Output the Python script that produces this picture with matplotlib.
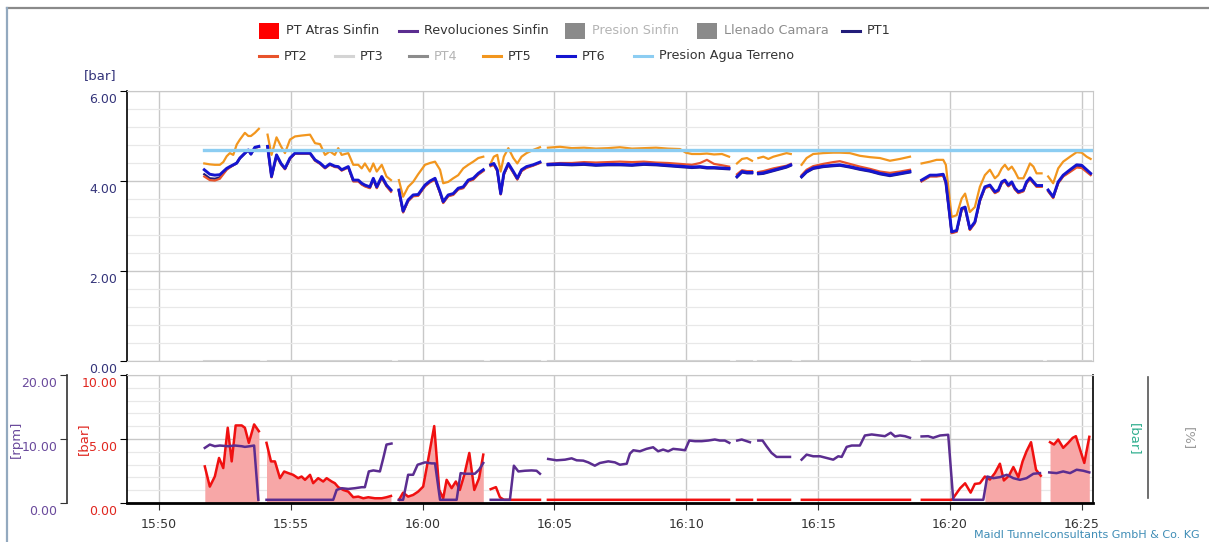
import numpy as np
import matplotlib.pyplot as plt
from matplotlib.lines import Line2D
from matplotlib.patches import Rectangle
from matplotlib.transforms import ScaledTranslation

# ------------------------------------------------------------
# Data (minutes after 15:50), segments separated where the logger had gaps
# ------------------------------------------------------------
tick_minutes = [0, 5, 10, 15, 20, 25, 30, 35]
tick_labels = ['15:50', '15:55', '16:00', '16:05', '16:10', '16:15', '16:20', '16:25']

t_top = [
    [1.72, 1.93, 2.12, 2.31, 2.44, 2.57, 2.69, 2.82, 2.95, 3.07, 3.26, 3.39, 3.49, 3.64, 3.79],
    [4.12, 4.27, 4.46, 4.63, 4.78, 4.97, 5.16, 5.41, 5.73, 5.92, 6.11, 6.30, 6.48, 6.67, 6.80,
     6.93, 7.18, 7.37, 7.56, 7.69, 7.81, 8.00, 8.13, 8.26, 8.45, 8.63, 8.80],
    [9.10, 9.26, 9.45, 9.64, 9.83, 10.09, 10.28, 10.47, 10.66, 10.78, 10.97, 11.16, 11.35, 11.54,
     11.73, 11.92, 12.11, 12.30],
    [12.58, 12.70, 12.83, 12.96, 13.08, 13.25, 13.44, 13.59, 13.75, 13.94, 14.19, 14.45],
    [14.75, 15.21, 15.66, 16.12, 16.57, 17.03, 17.48, 17.94, 18.39, 18.85, 19.30, 19.76, 19.98,
     20.21, 20.52, 20.78, 21.05, 21.35, 21.62],
    [21.92, 22.11, 22.30, 22.49],
    [22.73, 22.92, 23.11, 23.30, 23.55, 23.80, 23.96],
    [24.37, 24.56, 24.81, 25.19, 25.57, 25.82, 26.20, 26.58, 26.96, 27.34, 27.72, 28.10, 28.48],
    [28.92, 29.24, 29.49, 29.74, 29.84, 30.06, 30.25, 30.44, 30.57, 30.75, 30.94, 31.13, 31.32,
     31.51, 31.70, 31.83, 31.96, 32.08, 32.21, 32.34, 32.46, 32.59, 32.78, 32.90, 33.03, 33.16,
     33.28, 33.47],
    [33.72, 33.91, 34.10, 34.29, 34.55, 34.80, 34.99, 35.18, 35.33],
]

pt5 = [
    [4.39, 4.37, 4.36, 4.36, 4.42, 4.55, 4.62, 4.58, 4.81, 4.92, 5.07, 5.00, 5.00, 5.07, 5.16],
    [5.03, 4.58, 4.97, 4.77, 4.62, 4.92, 4.99, 5.01, 5.03, 4.84, 4.82, 4.58, 4.66, 4.58, 4.73,
     4.58, 4.62, 4.36, 4.36, 4.28, 4.39, 4.21, 4.39, 4.21, 4.36, 4.10, 4.02],
    [4.02, 3.65, 3.87, 3.98, 4.15, 4.36, 4.40, 4.43, 4.25, 3.95, 3.98, 4.06, 4.13, 4.28, 4.36,
     4.43, 4.51, 4.54],
    [4.39, 4.54, 4.58, 4.21, 4.54, 4.73, 4.51, 4.39, 4.54, 4.62, 4.69, 4.75],
    [4.74, 4.76, 4.73, 4.74, 4.72, 4.73, 4.75, 4.72, 4.73, 4.74, 4.72, 4.71, 4.63, 4.60, 4.60,
     4.61, 4.59, 4.60, 4.54],
    [4.39, 4.49, 4.51, 4.45],
    [4.51, 4.54, 4.49, 4.54, 4.58, 4.62, 4.60],
    [4.36, 4.51, 4.60, 4.62, 4.63, 4.63, 4.62, 4.56, 4.53, 4.51, 4.45, 4.49, 4.54],
    [4.39, 4.43, 4.47, 4.47, 4.36, 3.20, 3.24, 3.61, 3.72, 3.31, 3.42, 3.87, 4.13, 4.25, 4.06,
     4.13, 4.28, 4.36, 4.25, 4.32, 4.21, 4.06, 4.06, 4.21, 4.39, 4.32, 4.17, 4.17],
    [4.10, 3.95, 4.28, 4.43, 4.54, 4.64, 4.63, 4.54, 4.49],
]

pt6 = [
    [4.25, 4.15, 4.13, 4.14, 4.21, 4.28, 4.32, 4.36, 4.40, 4.51, 4.62, 4.69, 4.60, 4.75, 4.77],
    [4.77, 4.10, 4.58, 4.39, 4.28, 4.51, 4.62, 4.62, 4.62, 4.47, 4.40, 4.30, 4.38, 4.33, 4.32,
     4.25, 4.32, 4.02, 4.02, 3.95, 3.91, 3.87, 4.06, 3.87, 4.10, 3.91, 3.80],
    [3.80, 3.33, 3.58, 3.69, 3.70, 3.91, 4.00, 4.06, 3.76, 3.54, 3.69, 3.72, 3.84, 3.87, 4.02,
     4.06, 4.17, 4.25],
    [4.36, 4.39, 4.25, 3.72, 4.17, 4.39, 4.21, 4.06, 4.25, 4.32, 4.36, 4.42],
    [4.37, 4.38, 4.37, 4.38, 4.36, 4.37, 4.37, 4.36, 4.38, 4.37, 4.35, 4.33, 4.32, 4.31, 4.32,
     4.30, 4.30, 4.29, 4.28],
    [4.10, 4.21, 4.19, 4.19],
    [4.17, 4.18, 4.21, 4.24, 4.28, 4.32, 4.36],
    [4.10, 4.21, 4.29, 4.33, 4.35, 4.36, 4.32, 4.27, 4.23, 4.17, 4.13, 4.17, 4.21],
    [4.02, 4.13, 4.13, 4.15, 3.98, 2.87, 2.90, 3.39, 3.42, 2.94, 3.09, 3.58, 3.87, 3.91, 3.76,
     3.80, 3.98, 4.02, 3.91, 3.98, 3.84, 3.76, 3.80, 3.98, 4.07, 3.98, 3.90, 3.90],
    [3.80, 3.65, 3.98, 4.13, 4.25, 4.36, 4.35, 4.25, 4.17],
]

pt2 = [
    [4.10, 4.02, 4.01, 4.05, 4.15, 4.25, 4.30, 4.35, 4.40, 4.51, 4.62, 4.68, 4.60, 4.74, 4.76],
    [4.75, 4.08, 4.56, 4.37, 4.26, 4.49, 4.61, 4.61, 4.61, 4.45, 4.38, 4.28, 4.36, 4.31, 4.30,
     4.23, 4.30, 3.99, 3.99, 3.92, 3.88, 3.84, 4.03, 3.84, 4.07, 3.88, 3.76],
    [3.77, 3.30, 3.55, 3.66, 3.67, 3.88, 3.97, 4.03, 3.73, 3.51, 3.66, 3.69, 3.81, 3.84, 3.99,
     4.03, 4.14, 4.22],
    [4.33, 4.36, 4.22, 3.70, 4.14, 4.36, 4.18, 4.03, 4.22, 4.29, 4.34, 4.40],
    [4.38, 4.40, 4.40, 4.42, 4.41, 4.42, 4.43, 4.42, 4.43, 4.41, 4.40, 4.38, 4.37, 4.36, 4.40,
     4.47, 4.38, 4.35, 4.32],
    [4.15, 4.24, 4.22, 4.22],
    [4.20, 4.22, 4.25, 4.28, 4.31, 4.34, 4.38],
    [4.13, 4.25, 4.33, 4.38, 4.42, 4.44, 4.38, 4.32, 4.27, 4.21, 4.18, 4.21, 4.25],
    [3.99, 4.10, 4.10, 4.12, 3.95, 2.84, 2.87, 3.36, 3.39, 2.91, 3.06, 3.55, 3.84, 3.88, 3.73,
     3.77, 3.95, 3.99, 3.88, 3.95, 3.81, 3.73, 3.77, 3.95, 4.04, 3.95, 3.87, 3.87],
    [3.77, 3.62, 3.95, 4.10, 4.20, 4.30, 4.29, 4.20, 4.13],
]

pt1 = [
    [4.15, 4.06, 4.05, 4.08, 4.17, 4.26, 4.31, 4.35, 4.39, 4.50, 4.61, 4.68, 4.59, 4.74, 4.76],
    [4.76, 4.09, 4.57, 4.38, 4.27, 4.50, 4.61, 4.61, 4.61, 4.46, 4.39, 4.29, 4.37, 4.32, 4.31,
     4.24, 4.31, 4.00, 4.00, 3.93, 3.89, 3.85, 4.04, 3.85, 4.08, 3.89, 3.78],
    [3.78, 3.31, 3.56, 3.67, 3.68, 3.89, 3.98, 4.04, 3.74, 3.52, 3.67, 3.70, 3.82, 3.85, 4.00,
     4.04, 4.15, 4.23],
    [4.34, 4.37, 4.23, 3.71, 4.15, 4.37, 4.19, 4.04, 4.23, 4.30, 4.35, 4.41],
    [4.35, 4.36, 4.35, 4.36, 4.34, 4.35, 4.35, 4.34, 4.36, 4.35, 4.33, 4.31, 4.30, 4.29, 4.30,
     4.28, 4.28, 4.27, 4.26],
    [4.08, 4.19, 4.17, 4.17],
    [4.15, 4.16, 4.19, 4.22, 4.26, 4.30, 4.34],
    [4.08, 4.19, 4.27, 4.31, 4.33, 4.34, 4.30, 4.25, 4.21, 4.15, 4.11, 4.15, 4.19],
    [4.00, 4.11, 4.11, 4.13, 3.96, 2.85, 2.88, 3.37, 3.40, 2.92, 3.07, 3.56, 3.85, 3.89, 3.74,
     3.78, 3.96, 4.00, 3.89, 3.96, 3.82, 3.74, 3.78, 3.96, 4.05, 3.96, 3.88, 3.88],
    [3.78, 3.63, 3.96, 4.11, 4.22, 4.33, 4.32, 4.22, 4.15],
]

pt3_level = 0.0

agua_t = [1.72, 35.42]
agua = [4.68, 4.68]

# PT Atras Sinfin [bar]
t_atras = [
    [1.74, 1.93, 2.12, 2.28, 2.44, 2.61, 2.76, 2.91, 3.14, 3.26, 3.41, 3.61, 3.79],
    [4.08, 4.25, 4.40, 4.59, 4.75, 4.90, 5.09, 5.28, 5.41, 5.54, 5.73, 5.85, 6.04, 6.23, 6.36,
     6.55, 6.67, 6.80, 6.99, 7.18, 7.37, 7.56, 7.75, 7.94, 8.19, 8.45, 8.63, 8.80],
    [9.10, 9.26, 9.45, 9.64, 9.83, 10.02, 10.21, 10.44, 10.63, 10.78, 10.91, 11.10, 11.26, 11.41,
     11.58, 11.77, 11.96, 12.14, 12.30],
    [12.58, 12.78, 12.93, 13.08, 14.45],
    [14.75, 21.62],
    [21.92, 22.49],
    [22.72, 23.93],
    [24.38, 28.48],
    [28.93, 30.07, 30.12, 30.38, 30.57, 30.78, 30.94, 31.13, 31.32, 31.51, 31.70, 31.89, 32.04,
     32.23, 32.40, 32.59, 32.75, 32.90, 33.07, 33.26, 33.44],
    [33.79, 33.94, 34.10, 34.29, 34.48, 34.65, 34.77, 34.93, 35.09, 35.28],
]
atras = [
    [2.86, 1.28, 2.07, 3.52, 2.73, 5.88, 3.25, 6.06, 6.06, 5.88, 4.70, 6.14, 5.61],
    [4.70, 3.25, 3.25, 1.94, 2.46, 2.34, 2.20, 1.94, 2.07, 1.81, 2.20, 1.55, 1.94, 1.68, 1.94,
     1.68, 1.55, 1.24, 1.02, 0.89, 0.45, 0.50, 0.37, 0.45, 0.37, 0.37, 0.45, 0.55],
    [0.24, 0.81, 0.50, 0.63, 0.89, 1.28, 3.39, 6.01, 1.02, 0.37, 1.81, 1.16, 1.68, 1.02, 2.20,
     3.91, 1.02, 1.94, 3.78],
    [1.08, 1.24, 0.45, 0.25, 0.25],
    [0.25, 0.25],
    [0.25, 0.25],
    [0.25, 0.25],
    [0.25, 0.25],
    [0.25, 0.25, 0.39, 1.15, 1.54, 0.81, 1.49, 1.54, 2.07, 1.83, 2.34, 3.07, 1.76, 2.13, 2.81,
     2.02, 3.25, 4.04, 4.75, 2.60, 2.13],
    [4.75, 4.57, 4.96, 4.31, 4.70, 5.09, 5.22, 4.17, 3.13, 5.17],
]
atras_fill_windows = [(1.74, 3.79), (4.08, 8.80), (9.10, 12.30), (31.32, 33.44), (33.79, 35.28)]

# Revoluciones Sinfin [rpm]
t_rev = [
    [1.74, 1.93, 2.12, 2.31, 2.63, 2.88, 3.14, 3.26, 3.45, 3.61, 3.77],
    [4.08, 6.61, 6.74, 6.93, 7.18, 7.43, 7.69, 7.81, 7.96, 8.13, 8.38, 8.51, 8.63, 8.82],
    [9.10, 9.26, 9.45, 9.64, 9.81, 10.09, 10.34, 10.47, 10.66, 11.29, 11.44, 11.60, 11.98, 12.14,
     12.30],
    [12.58, 13.31, 13.46, 13.63, 13.88, 14.13, 14.32, 14.45],
    [14.76, 15.08, 15.40, 15.65, 15.84, 16.09, 16.28, 16.53, 16.72, 17.04, 17.29, 17.48, 17.74,
     17.86, 17.99, 18.24, 18.49, 18.74, 18.93, 19.12, 19.31, 19.50, 19.76, 19.95, 20.11, 20.33,
     20.58, 20.83, 21.08, 21.27, 21.46, 21.63],
    [21.93, 22.10, 22.29, 22.41],
    [22.73, 22.89, 23.04, 23.23, 23.42, 23.61, 23.93],
    [24.37, 24.56, 24.81, 25.07, 25.32, 25.57, 25.76, 25.89, 26.08, 26.27, 26.58, 26.77, 27.03,
     27.34, 27.53, 27.75, 27.91, 28.10, 28.29, 28.48],
    [28.92, 29.17, 29.36, 29.62, 29.93, 30.12, 31.26, 31.41, 31.64, 31.89, 32.15, 32.40, 32.65,
     32.90, 33.16, 33.41],
    [33.76, 34.04, 34.29, 34.55, 34.80, 35.05, 35.28],
]
rev = [
    [8.61, 9.13, 8.87, 8.98, 8.87, 8.98, 8.87, 8.77, 8.87, 8.98, 0.5],
    [0.5, 0.5, 2.05, 2.31, 2.20, 2.31, 2.47, 2.47, 4.93, 5.09, 4.93, 7.04, 9.13, 9.29],
    [0.5, 0.5, 4.41, 4.41, 5.98, 6.35, 6.19, 6.19, 0.5, 0.5, 4.67, 4.57, 4.57, 5.20, 6.25],
    [0.5, 0.5, 5.83, 4.93, 5.04, 5.09, 5.04, 4.57],
    [6.88, 6.67, 6.77, 6.98, 6.67, 6.62, 6.35, 5.83, 6.25, 6.51, 6.35, 5.98, 6.14, 7.72, 8.24,
     8.08, 8.46, 8.71, 8.08, 8.35, 8.08, 8.46, 8.35, 8.24, 9.76, 9.66, 9.66, 9.76, 9.92, 9.76,
     9.76, 9.40],
    [9.76, 9.92, 9.66, 9.50],
    [9.76, 9.76, 8.87, 7.83, 7.20, 7.20, 7.20],
    [6.77, 7.56, 7.30, 7.30, 7.04, 6.77, 7.30, 7.20, 8.77, 8.98, 8.98, 10.55, 10.71, 10.55,
     10.44, 10.98, 10.40, 10.55, 10.44, 10.19],
    [10.40, 10.44, 10.19, 10.55, 10.66, 0.5, 0.5, 4.14, 3.88, 4.04, 4.41, 3.88, 3.62, 3.88,
     4.57, 4.67],
    [4.78, 4.67, 4.93, 4.67, 5.20, 5.04, 4.78],
]


def join(segs):
    out = []
    for i, s in enumerate(segs):
        if i:
            out.append(np.nan)
        out.extend(s)
    return np.array(out, dtype=float)


T = join(t_top)
TA, A = join(t_atras), join(atras)
TR, R = join(t_rev), join(rev)

# colours
C_ATRAS = '#f01010'
C_FILL = '#f7a7a7'
C_REV = '#5b2d90'
C_PT1 = '#231d7a'
C_PT2 = '#e8532b'
C_PT3 = '#d4d4d4'
C_PT4 = '#8c8c8c'
C_PT5 = '#f2961e'
C_PT6 = '#1515d0'
C_AGUA = '#8ccdf2'
C_GRID = '#c8c8c8'
C_MINOR = '#e8e8e8'
C_TXT = '#333333'

# ------------------------------------------------------------
# Figure / axes in pixel geometry
# ------------------------------------------------------------
W, H = 1209, 542
fig = plt.figure(figsize=(W / 100, H / 100), dpi=100)
plt.rcParams['font.family'] = 'DejaVu Sans'
PT_PER_PX = 72 / 100


def fx(x):
    return x / W


def fy(y):
    return 1 - y / H


x_left, x_right = 127, 1093
ax_top = fig.add_axes([fx(x_left), fy(361), (x_right - x_left) / W, (361 - 91) / H])
ax_bot = fig.add_axes([fx(x_left), fy(503), (x_right - x_left) / W, (503 - 375) / H])


def ax_x(px):
    # figure pixel x -> axes fraction of the bottom panel
    return (px - x_left) / (x_right - x_left)


xlim = (-1.21, 35.42)
down = ScaledTranslation(0, -5 / 72, fig.dpi_scale_trans)

# ---- top panel ----
ax_top.plot(T, np.where(np.isnan(T), np.nan, pt3_level), color=C_PT3, lw=1.5, zorder=2)
ax_top.plot(T, join(pt1), color=C_PT1, lw=1.6, zorder=3)
ax_top.plot(T, join(pt2), color=C_PT2, lw=1.6, zorder=3)
ax_top.plot(T, join(pt5), color=C_PT5, lw=1.6, zorder=3)
ax_top.plot(T, join(pt6), color=C_PT6, lw=2.1, zorder=4)
ax_top.plot(agua_t, agua, color=C_AGUA, lw=2.4, zorder=5)

ax_top.set_xlim(*xlim)
ax_top.set_ylim(0, 6)
ax_top.set_xticks(tick_minutes)
ax_top.set_xticklabels([])
ax_top.set_yticks([0, 2, 4, 6])
ax_top.set_yticklabels(['0.00', '2.00', '4.00', '6.00'], color='#34347a', fontsize=9)
ax_top.set_yticks(np.arange(0, 6.01, 0.4), minor=True)
ax_top.tick_params(axis='x', length=0)
ax_top.tick_params(axis='y', which='major', length=5, color='black', pad=2)
ax_top.tick_params(axis='y', which='minor', length=0)
for lab in ax_top.get_yticklabels():
    lab.set_transform(lab.get_transform() + down)
ax_top.grid(which='major', color=C_GRID, lw=1.0)
ax_top.grid(which='minor', axis='y', color=C_MINOR, lw=0.9)
ax_top.set_axisbelow(True)
for side in ['top', 'right', 'bottom']:
    ax_top.spines[side].set_color(C_GRID)
ax_top.spines['left'].set_color('black')
ax_top.spines['left'].set_linewidth(1.2)
fig.text(fx(100), fy(76), '[bar]', color='#34347a', fontsize=9.5, ha='center', va='center')

# ---- bottom panel ----
for a, b in atras_fill_windows:
    m = (TA >= a - 1e-6) & (TA <= b + 1e-6)
    ax_bot.fill_between(TA[m], 0, A[m], color=C_FILL, lw=0, zorder=2)
ax_bot.plot(TA, A, color=C_ATRAS, lw=1.8, zorder=3)

ax_bot.set_xlim(*xlim)
ax_bot.set_ylim(0, 10)
ax_bot.set_xticks(tick_minutes)
ax_bot.set_xticklabels(tick_labels, fontsize=9, color=C_TXT)
ax_bot.set_yticks([0, 5, 10])
ax_bot.set_yticklabels(['0.00', '5.00', '10.00'], color='#e0261f', fontsize=9)
ax_bot.set_yticks(np.arange(0, 10.01, 1), minor=True)
ax_bot.tick_params(axis='x', length=5, color=C_TXT, pad=6)
ax_bot.tick_params(axis='y', which='major', length=5, color='black', pad=2)
ax_bot.tick_params(axis='y', which='minor', length=0)
for lab in ax_bot.get_yticklabels():
    lab.set_transform(lab.get_transform() + down)
ax_bot.grid(which='major', color=C_GRID, lw=1.0)
ax_bot.grid(which='minor', axis='y', color=C_MINOR, lw=0.9)
ax_bot.set_axisbelow(True)
ax_bot.spines['top'].set_color(C_GRID)
ax_bot.spines['left'].set_linewidth(1.2)
ax_bot.spines['right'].set_linewidth(1.2)
ax_bot.spines['bottom'].set_linewidth(2.0)
ax_bot.set_ylabel('[bar]', color='#e0261f', fontsize=9.5, va='center')
ax_bot.yaxis.set_label_coords(ax_x(83), 0.5)

# rpm axis (offset left)
ax_rpm = ax_bot.twinx()
ax_rpm.plot(TR, R, color=C_REV, lw=1.8, zorder=4)
ax_rpm.set_ylim(0, 20)
ax_rpm.yaxis.tick_left()
ax_rpm.spines['left'].set_position(('outward', (x_left - 67) * PT_PER_PX))
ax_rpm.spines['left'].set_visible(True)
ax_rpm.spines['left'].set_color('#333333')
ax_rpm.spines['left'].set_linewidth(1.2)
for side in ['right', 'top', 'bottom']:
    ax_rpm.spines[side].set_visible(False)
ax_rpm.set_yticks([0, 10, 20])
ax_rpm.set_yticklabels(['0.00', '10.00', '20.00'], color='#6a4a9c', fontsize=9)
ax_rpm.tick_params(axis='y', length=5, color='#333333', pad=2)
for lab in ax_rpm.get_yticklabels():
    lab.set_transform(lab.get_transform() + down)
ax_rpm.yaxis.set_label_position('left')
ax_rpm.set_ylabel('[rpm]', color='#6a4a9c', fontsize=9.5, va='center')
ax_rpm.yaxis.set_label_coords(ax_x(16), 0.5)

# empty right-hand axes
ax_r1 = ax_bot.twinx()
ax_r1.set_yticks([])
for side in ['left', 'top', 'bottom', 'right']:
    ax_r1.spines[side].set_visible(False)
ax_r1.set_ylabel('[bar]', color='#2fae8e', fontsize=9.5, rotation=270, va='center')
ax_r1.yaxis.set_label_coords(ax_x(1134), 0.5)

ax_r2 = ax_bot.twinx()
ax_r2.set_ylim(0, 1)
ax_r2.set_yticks([])
for side in ['left', 'top', 'bottom']:
    ax_r2.spines[side].set_visible(False)
ax_r2.spines['right'].set_position(('outward', (1148 - x_right) * PT_PER_PX))
ax_r2.spines['right'].set_color('#555555')
ax_r2.spines['right'].set_linewidth(1.2)
ax_r2.spines['right'].set_bounds(0.04, 0.985)
ax_r2.set_ylabel('[%]', color='#9a9a9a', fontsize=9.5, rotation=270, va='center')
ax_r2.yaxis.set_label_coords(ax_x(1188), 0.5)

# ------------------------------------------------------------
# Legend (drawn by hand to match the two-row layout)
# ------------------------------------------------------------
LEG_FS = 9.2


def leg_patch(x0, y, color, label, tcolor=C_TXT):
    fig.add_artist(Rectangle((fx(x0), fy(y + 8)), 20 / W, 16 / H, transform=fig.transFigure,
                             facecolor=color, edgecolor='none'))
    fig.text(fx(x0 + 27), fy(y), label, fontsize=LEG_FS, color=tcolor, ha='left', va='center')


def leg_line(x0, y, color, label, tcolor=C_TXT):
    fig.add_artist(Line2D([fx(x0), fx(x0 + 18)], [fy(y), fy(y)], transform=fig.transFigure,
                          color=color, lw=2.2))
    fig.text(fx(x0 + 25), fy(y), label, fontsize=LEG_FS, color=tcolor, ha='left', va='center')


r1, r2 = 31, 56
leg_patch(259, r1, '#ff0000', 'PT Atras Sinfin')
leg_line(399, r1, C_REV, 'Revoluciones Sinfin')
leg_patch(565, r1, '#8a8a8a', 'Presion Sinfin', '#b4b4b4')
leg_patch(697, r1, '#8a8a8a', 'Llenado Camara', '#8c8c8c')
leg_line(842, r1, C_PT1, 'PT1')
leg_line(259, r2, C_PT2, 'PT2')
leg_line(335, r2, C_PT3, 'PT3')
leg_line(409, r2, C_PT4, 'PT4', '#b4b4b4')
leg_line(483, r2, C_PT5, 'PT5')
leg_line(557, r2, C_PT6, 'PT6')
leg_line(634, r2, C_AGUA, 'Presion Agua Terreno')

# frame and footer
fig.add_artist(Line2D([fx(7), 1], [fy(8), fy(8)], transform=fig.transFigure, color='#8a8a8a', lw=1.6))
fig.add_artist(Line2D([fx(7), fx(7)], [0, fy(8)], transform=fig.transFigure, color='#93a9bf', lw=1.6))
fig.text(fx(1200), fy(535), 'Maidl Tunnelconsultants GmbH & Co. KG', fontsize=8,
         color='#3f8db6', ha='right', va='center')

fig.savefig('out.png', dpi=100)
